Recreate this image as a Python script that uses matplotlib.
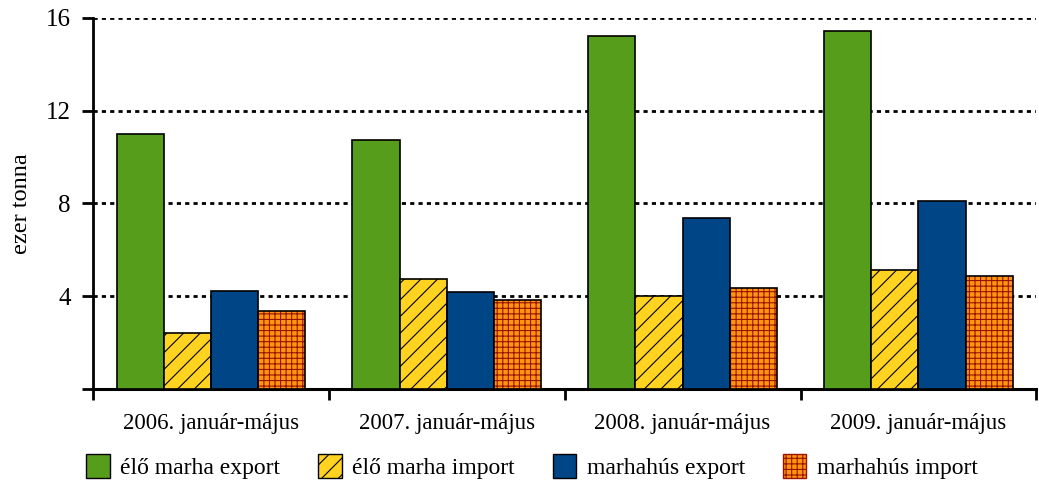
import numpy as np
import matplotlib.pyplot as plt
from matplotlib.patches import Patch

plt.rcParams['font.family'] = ['Liberation Serif', 'DejaVu Serif']
plt.rcParams['hatch.linewidth'] = 0.8

##################### DATA ##########################################
categories = ['2006. január-május', '2007. január-május',
              '2008. január-május', '2009. január-május']
series_names = ['élő marha export', 'élő marha import',
                'marhahús export', 'marhahús import']
elo_export = [11.0, 10.75, 15.22, 15.44]
elo_import = [2.41, 4.74, 4.01, 5.13]
hus_export = [4.23, 4.18, 7.37, 8.11]
hus_import = [3.36, 3.84, 4.36, 4.87]

y_ticks = [4, 8, 12, 16]

########################### STYLES ###################################
values = [elo_export, elo_import, hus_export, hus_import]
faces = ['#579D1C', '#FFD320', '#004586', '#FF950E']
hatches = [None, '//', None, '+++']
hatch_cols = ['black', 'black', 'black', '#9A1200']

fig = plt.figure(figsize=(10.39, 4.86), dpi=100)
ax = fig.add_axes([0.0895, 0.1996, 0.908, 0.7634])

x = np.arange(len(categories))
w = 0.2
offsets = [-0.3, -0.1, 0.1, 0.3]

for vals, fc, h, hc, off in zip(values, faces, hatches, hatch_cols, offsets):
    if h is None:
        ax.bar(x + off, vals, w, color=fc, edgecolor='black', lw=1.2, zorder=3)
    else:
        ax.bar(x + off, vals, w, color=fc, edgecolor=hc, hatch=h, lw=0, zorder=3)
        ax.bar(x + off, vals, w, fill=False, edgecolor='black', lw=1.2, zorder=4)

#################################### AXES ###################################
ax.set_xlim(-0.5, len(categories) - 0.5)
ax.set_ylim(0, 16)
ax.set_yticks([0] + y_ticks)
ax.set_yticklabels([''] + [str(t) for t in y_ticks])
ax.set_xticks(x)
ax.set_xticklabels(categories, fontsize=16.5)
ax.set_xticks(np.arange(-0.5, len(categories), 1.0), minor=True)
ax.tick_params(axis='x', which='major', length=0, pad=17)
ax.tick_params(axis='x', which='minor', length=8, width=2, direction='out')
ax.tick_params(axis='y', labelsize=18, length=8, width=2, direction='out', pad=8)
ax.set_ylabel('ezer tonna', fontsize=17.5, labelpad=10)

for s in ['top', 'right']:
    ax.spines[s].set_visible(False)
ax.spines['left'].set_linewidth(2)
ax.spines['bottom'].set_linewidth(2.2)

ax.yaxis.grid(True, color='black', linestyle=(0, (1.5, 1.5)), lw=2)
ax.set_axisbelow(True)

handles = [Patch(facecolor=fc, edgecolor=hc if h else 'black', hatch=h, lw=1)
           for fc, h, hc in zip(faces, hatches, hatch_cols)]
fig.legend(handles, series_names, loc='center', bbox_to_anchor=(0.512, 0.04),
           ncol=4, frameon=False, fontsize=17, handlelength=1.0, handleheight=1.2,
           handletextpad=0.45, columnspacing=1.6)

plt.savefig('out.png', dpi=100, facecolor='w')
